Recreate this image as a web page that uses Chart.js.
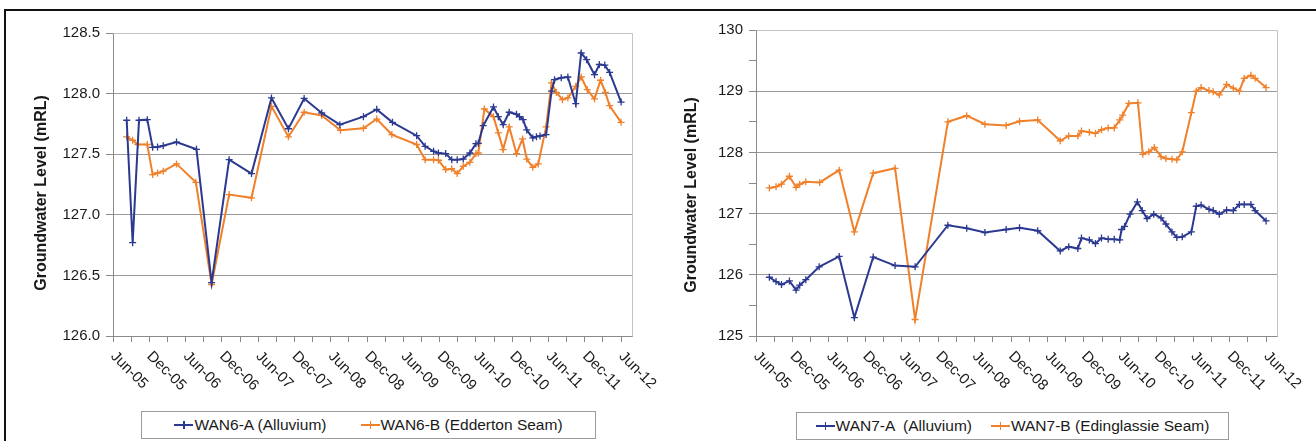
<!DOCTYPE html>
<html>
<head>
<meta charset="utf-8">
<script src="https://cdn.jsdelivr.net/npm/chart.js@4.4.1/dist/chart.umd.min.js"></script>
<style>
  html, body { margin: 0; padding: 0; background: #fff; }
  body { width: 1316px; height: 441px; position: relative; overflow: hidden; font-family: 'Liberation Sans', Arial, sans-serif; color: #1a1a1a; }
  .frame { position: absolute; left: 4px; top: 9px; right: 0; bottom: 0; border-top: 2px solid #111; border-left: 2px solid #111; }
  canvas { position: absolute; top: 0; }
  #wan6 { left: 0; }
  #wan7 { left: 660px; }
  .legend { position: absolute; height: 28px; border: 1px solid #9c9c9c; box-sizing: border-box; display: flex; align-items: center; justify-content: center; font-size: 15.5px; background: #fff; }
  .leg { display: inline-flex; align-items: center; white-space: pre; }
  .leg-mk { position: relative; width: 19px; height: 2px; margin-right: 1px; }
  .leg-mk::after { content: ''; position: absolute; left: 9px; top: -3px; width: 1.5px; height: 8px; background: inherit; }
</style>
</head>
<body>
<div class="frame"></div>
<canvas id="wan6" width="660" height="441"></canvas>
<canvas id="wan7" width="656" height="441"></canvas>
<div class="legend" style="left:141px; top:411px; width:455px; gap:34px;">
  <span class="leg"><span class="leg-mk" style="background:#2B3990"></span>WAN6-A (Alluvium)</span>
  <span class="leg"><span class="leg-mk" style="background:#F0802A"></span>WAN6-B (Edderton Seam)</span>
</div>
<div class="legend" style="left:796px; top:412px; width:433px; gap:19px;">
  <span class="leg"><span class="leg-mk" style="background:#2B3990"></span>WAN7-A  (Alluvium)</span>
  <span class="leg"><span class="leg-mk" style="background:#F0802A"></span>WAN7-B (Edinglassie Seam)</span>
</div>
<script>
var BLUE = '#2B3990';
var ORANGE = '#F0802A';
var GRID = '#999999';
var AXIS = '#8a8a8a';
var FRAME = '#c4c4c4';
var FONT = "'Liberation Sans', Arial, sans-serif";

// x axis: months after Jun-05, labelled every 6 months
var xTickLabels = ['Jun-05', 'Dec-05', 'Jun-06', 'Dec-06', 'Jun-07', 'Dec-07', 'Jun-08', 'Dec-08',
  'Jun-09', 'Dec-09', 'Jun-10', 'Dec-10', 'Jun-11', 'Dec-11', 'Jun-12'];
var X_MAX = 85.8;

// WAN6 (left chart)
var wan6aMonths = [2.26, 3.25, 4.3, 5.67, 6.55, 7.37, 8.3, 10.5, 13.8, 16.3, 19.2, 22.9, 26.2, 29.0, 31.6,
  34.5, 37.5, 41.4, 43.6, 46.2, 50.2, 51.6, 53.0, 53.8, 55.0, 56.0, 56.9, 57.9, 59.0, 60.0, 60.4, 61.2,
  62.9, 63.7, 64.5, 65.5, 66.7, 67.2, 67.8, 68.4, 69.4, 70.0, 70.6, 71.6, 72.5, 73.0, 74.1, 75.2, 76.5,
  77.4, 78.3, 79.6, 80.4, 81.3, 82.1, 84.0];
var wan6aValues = [127.78, 126.77, 127.78, 127.785, 127.557, 127.56, 127.57, 127.60, 127.54, 126.44,
  127.455, 127.34, 127.964, 127.71, 127.96, 127.84, 127.744, 127.81, 127.87, 127.763, 127.653, 127.565,
  127.524, 127.51, 127.505, 127.455, 127.455, 127.46, 127.51, 127.587, 127.59, 127.735, 127.89, 127.81,
  127.744, 127.846, 127.83, 127.81, 127.785, 127.70, 127.634, 127.645, 127.65, 127.662, 128.02, 128.115,
  128.13, 128.137, 127.917, 128.335, 128.28, 128.156, 128.24, 128.235, 128.175, 127.93];

var wan6bMonths = [2.26, 3.25, 4.1, 5.67, 6.55, 7.37, 8.3, 10.5, 13.7, 16.3, 19.2, 22.9, 26.2, 29.0, 31.6,
  34.5, 37.6, 41.4, 43.6, 46.1, 50.2, 51.6, 53.0, 53.8, 55.0, 56.0, 56.9, 57.9, 59.0, 60.0, 60.4, 61.4,
  62.9, 63.7, 64.5, 65.5, 66.7, 67.7, 68.4, 69.4, 70.3, 71.6, 72.5, 73.3, 74.3, 75.2, 76.5, 77.4, 78.4,
  79.6, 80.6, 81.4, 82.1, 84.0];
var wan6bValues = [127.643, 127.615, 127.58, 127.58, 127.332, 127.345, 127.36, 127.42, 127.268, 126.425,
  127.167, 127.14, 127.895, 127.643, 127.846, 127.82, 127.697, 127.714, 127.79, 127.662, 127.58, 127.455,
  127.455, 127.45, 127.373, 127.38, 127.34, 127.40, 127.433, 127.505, 127.51, 127.873, 127.81, 127.676,
  127.538, 127.725, 127.505, 127.626, 127.46, 127.392, 127.42, 127.725, 128.088, 128.01, 127.95, 127.964,
  128.06, 128.137, 128.033, 127.956, 128.11, 128.01, 127.90, 127.763];

// WAN7 (right chart)
var wan7aMonths = [2.2, 3.3, 4.2, 5.5, 6.6, 7.2, 8.2, 10.4, 13.7, 16.2, 19.3, 22.9, 26.2, 31.6, 34.7, 37.7,
  41.2, 43.4, 46.4, 50.1, 51.5, 53.0, 53.6, 54.9, 55.9, 56.9, 58.0, 59.0, 59.9, 60.2, 60.7, 61.6, 62.8,
  63.6, 64.4, 65.5, 66.7, 67.5, 68.5, 69.3, 70.2, 71.7, 72.5, 73.3, 74.6, 75.3, 76.3, 77.5, 78.6, 79.6,
  80.4, 81.5, 82.2, 84.0];
var wan7aValues = [125.96, 125.89, 125.84, 125.90, 125.75, 125.83, 125.92, 126.13, 126.30, 125.30, 126.29,
  126.15, 126.13, 126.81, 126.76, 126.69, 126.74, 126.77, 126.72, 126.39, 126.46, 126.43, 126.60, 126.57,
  126.51, 126.60, 126.58, 126.58, 126.57, 126.74, 126.79, 126.99, 127.19, 127.05, 126.92, 126.99, 126.93,
  126.83, 126.70, 126.61, 126.62, 126.70, 127.12, 127.14, 127.07, 127.05, 126.99, 127.06, 127.05, 127.15,
  127.15, 127.15, 127.05, 126.88];

var wan7bMonths = [2.2, 3.3, 4.2, 5.5, 6.6, 7.2, 8.2, 10.5, 13.7, 16.2, 19.3, 22.9, 26.2, 31.6, 34.7, 37.7,
  41.2, 43.4, 46.4, 50.1, 51.5, 53.0, 53.6, 54.9, 55.9, 56.9, 58.0, 59.0, 59.9, 60.4, 61.4, 62.9, 63.7,
  64.7, 65.6, 66.7, 67.5, 68.5, 69.3, 70.2, 71.7, 72.5, 73.3, 74.6, 75.3, 76.3, 77.5, 78.6, 79.6, 80.4,
  81.5, 82.2, 84.0];
var wan7bValues = [127.42, 127.44, 127.48, 127.61, 127.43, 127.48, 127.52, 127.51, 127.71, 126.70, 127.66,
  127.74, 125.27, 128.50, 128.60, 128.46, 128.44, 128.51, 128.53, 128.19, 128.27, 128.27, 128.35, 128.33,
  128.31, 128.37, 128.40, 128.40, 128.53, 128.61, 128.80, 128.81, 127.97, 128.01, 128.08, 127.93, 127.90,
  127.89, 127.88, 128.01, 128.65, 129.00, 129.06, 129.01, 128.99, 128.94, 129.11, 129.05, 129.00, 129.21,
  129.26, 129.21, 129.06];

function _series(label, months, values, color) {
  return {
    label: label,
    data: months.map(function (m, i) { return { x: m, y: values[i] }; }),
    borderColor: color,
    backgroundColor: color,
    borderWidth: 2,
    tension: 0,
    pointStyle: 'cross',
    pointRadius: 3.5,
    pointBorderWidth: 1.3,
    pointBorderColor: color,
    pointBackgroundColor: color,
  };
}

// plot frame, rotated date labels and the y title, drawn like Excel does
var excelDecor = {
  id: 'excelDecor',
  beforeDatasetsDraw: function (chart) {
    var a = chart.chartArea, c = chart.ctx;
    c.save();
    c.strokeStyle = FRAME;
    c.lineWidth = 1;
    c.beginPath();
    c.moveTo(Math.round(a.left) + 0.5, Math.round(a.top) + 0.5);
    c.lineTo(Math.round(a.right) + 0.5, Math.round(a.top) + 0.5);
    c.lineTo(Math.round(a.right) + 0.5, Math.round(a.bottom) + 0.5);
    c.stroke();
    c.restore();
  },
  afterDraw: function (chart, args, opts) {
    var c = chart.ctx, xs = chart.scales.x;
    c.save();
    c.fillStyle = '#1a1a1a';
    c.font = '15px ' + FONT;
    c.textAlign = 'left';
    c.textBaseline = 'middle';
    xTickLabels.forEach(function (lab, i) {
      var px = xs.getPixelForValue(i * 6);
      c.save();
      c.translate(px, xs.top + 18);
      c.rotate(Math.PI / 4);
      c.fillText(lab, 0, 0);
      c.restore();
    });
    c.font = 'bold 16px ' + FONT;
    c.textAlign = 'center';
    c.translate(opts.titleX, opts.titleY);
    c.rotate(-Math.PI / 2);
    c.fillText('Groundwater Level (mRL)', 0, 0);
    c.restore();
  },
};

function makeChart(id, cfg) {
  var ctx = document.getElementById(id);
  if (!ctx) return;
  return new Chart(ctx, {
    type: 'line',
    data: {
      datasets: [
        _series(cfg.labelA, cfg.monthsA, cfg.valuesA, BLUE),
        _series(cfg.labelB, cfg.monthsB, cfg.valuesB, ORANGE),
      ],
    },
    options: {
      responsive: false,
      animation: false,
      layout: { padding: cfg.padding },
      plugins: {
        legend: { display: false },
        tooltip: { enabled: false },
        excelDecor: { titleX: cfg.titleX, titleY: cfg.titleY },
      },
      scales: {
        x: {
          type: 'linear',
          min: 0,
          max: X_MAX,
          afterFit: function (s) { s.height = cfg.xHeight; },
          ticks: { display: false, stepSize: 3, includeBounds: false },
          grid: { drawOnChartArea: false, color: AXIS, tickLength: 6 },
          border: { color: AXIS },
        },
        y: {
          min: cfg.yMin,
          max: cfg.yMax,
          afterFit: function (s) { s.width = cfg.yWidth; },
          ticks: {
            stepSize: cfg.yStep,
            padding: 6,
            color: '#1a1a1a',
            font: { size: 15, family: FONT },
            callback: cfg.yFormat,
          },
          grid: {
            color: function (c) {
              return c.tick && cfg.minorHalf && c.tick.value % 1 !== 0 ? 'rgba(0,0,0,0)' : GRID;
            },
            tickColor: AXIS,
            tickLength: 7,
          },
          border: { color: AXIS },
        },
      },
    },
    plugins: [excelDecor],
  });
}

makeChart('wan6', {
  labelA: 'WAN6-A (Alluvium)', monthsA: wan6aMonths, valuesA: wan6aValues,
  labelB: 'WAN6-B (Edderton Seam)', monthsB: wan6bMonths, valuesB: wan6bValues,
  padding: { top: 33, right: 28, left: 0, bottom: 0 },
  xHeight: 105, yWidth: 113,
  yMin: 126, yMax: 128.5, yStep: 0.5,
  yFormat: function (v) { return v.toFixed(1); },
  titleX: 42, titleY: 193,
});

makeChart('wan7', {
  labelA: 'WAN7-A  (Alluvium)', monthsA: wan7aMonths, valuesA: wan7aValues,
  labelB: 'WAN7-B (Edinglassie Seam)', monthsB: wan7bMonths, valuesB: wan7bValues,
  padding: { top: 30, right: 39, left: 0, bottom: 0 },
  xHeight: 105, yWidth: 96,
  yMin: 125, yMax: 130, yStep: 0.5, minorHalf: true,
  yFormat: function (v) { return v % 1 === 0 ? String(v) : ''; },
  titleX: 32, titleY: 195,
});
</script>
</body>
</html>
